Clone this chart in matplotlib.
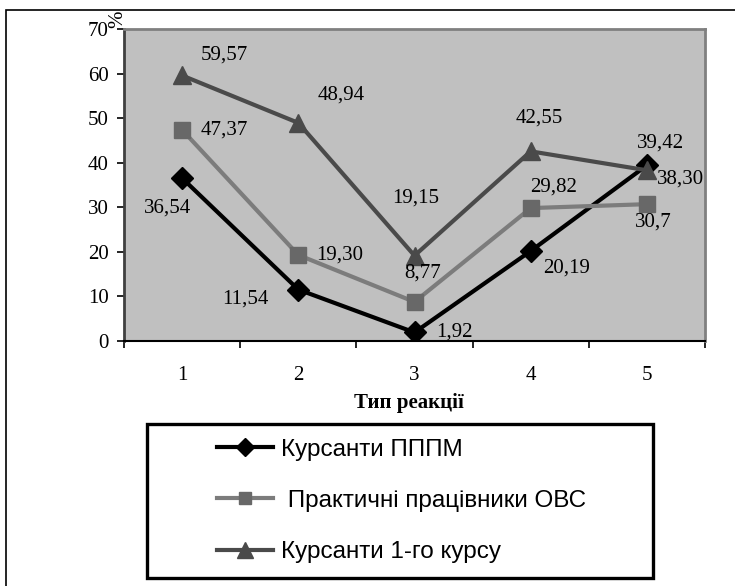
import matplotlib
matplotlib.use("Agg")
import matplotlib.pyplot as plt
from matplotlib.patches import Rectangle

# дані
categories = [1, 2, 3, 4, 5]
kursanty_ppppm = [36.54, 11.54, 1.92, 20.19, 39.42]
praktychni_ovs = [47.37, 19.30, 8.77, 29.82, 30.7]
kursanty_1 = [59.57, 48.94, 19.15, 42.55, 38.30]
labels_ppppm = ["36,54", "11,54", "1,92", "20,19", "39,42"]
labels_ovs = ["47,37", "19,30", "8,77", "29,82", "30,7"]
labels_1 = ["59,57", "48,94", "19,15", "42,55", "38,30"]
series_names = ["Курсанти ПППМ", " Практичні працівники ОВС", "Курсанти 1-го курсу"]
y_ticks = [0, 10, 20, 30, 40, 50, 60, 70]

# зсуви підписів (пікселі)
off_ppppm = [(-15, -30), (-53, -9), (40, 0), (36, -17), (14, 22)]
off_ovs = [(42, 0), (41, 0), (8, 29), (23, 21), (6, -18)]
off_1 = [(42, 20), (43, 28), (1, 58), (9, 33), (34, -9)]

serif = "Liberation Serif"
W, H = 735, 586
fig = plt.figure(figsize=(W / 100, H / 100), dpi=100)
ax = fig.add_axes([124 / W, 1 - 341 / H, (705 - 124) / W, (341 - 29) / H])
ax.set_facecolor("#c0c0c0")

styles = [
    (kursanty_ppppm, labels_ppppm, off_ppppm, "D", 11, "black", "black"),
    (praktychni_ovs, labels_ovs, off_ovs, "s", 11, "#7c7c7c", "#686868"),
    (kursanty_1, labels_1, off_1, "^", 13, "#4a4a4a", "#4a4a4a"),
]
handles = []
for (vals, labs, offs, mk, ms, lc, mc), name in zip(styles, series_names):
    h, = ax.plot(categories, vals, color=lc, lw=3, marker=mk, ms=ms,
                 mfc=mc, mec=mc, label=name, zorder=3)
    handles.append(h)
    for x, v, t, (dx, dy) in zip(categories, vals, labs, offs):
        ax.annotate(t, (x, v), xytext=(dx, dy), textcoords="offset pixels",
                    ha="center", va="center", fontsize=15, family=serif, zorder=4)

ax.set_xlim(0.5, 5.5)
ax.set_ylim(0, 70)
ax.set_yticks(y_ticks)
ax.set_yticklabels([str(t) for t in y_ticks], family=serif, fontsize=15)
ax.tick_params(axis="y", length=5, width=1.2, pad=6)

ax.set_xticks([0.5, 1.5, 2.5, 3.5, 4.5, 5.5])
ax.set_xticklabels([])
ax.tick_params(axis="x", which="major", length=5, width=1.2, direction="out")
ax.set_xticks(categories, minor=True)
ax.set_xticklabels([str(c) for c in categories], minor=True, family=serif, fontsize=15)
ax.tick_params(axis="x", which="minor", length=0, pad=18)

for s in ["top", "right"]:
    ax.spines[s].set_color("#808080")
    ax.spines[s].set_linewidth(2)
ax.spines["left"].set_color("#404040")
ax.spines["left"].set_linewidth(2)
ax.spines["bottom"].set_color("black")
ax.spines["bottom"].set_linewidth(1.5)

fig.text(409 / W, 1 - 403 / H, "Тип реакції", family=serif, fontsize=15,
         fontweight="bold", ha="center", va="center")
fig.text(118 / W, 1 - 19 / H, "%", family=serif, fontsize=15, rotation=90,
         ha="center", va="center")

# зовнішня рамка
fig.patches.append(Rectangle((6 / W, -0.01), 1.0, 1 - 10 / H + 0.01,
                             transform=fig.transFigure, fill=False,
                             edgecolor="black", lw=1.2))
# рамка легенди
fig.patches.append(Rectangle((147 / W, 1 - 578 / H), (653 - 147) / W, (578 - 424) / H,
                             transform=fig.transFigure, fill=False,
                             edgecolor="black", lw=2.4))

leg = fig.legend(handles=handles, loc="center left",
                 bbox_to_anchor=(217 / W, 1 - 501 / H),
                 prop={"family": "Liberation Sans", "size": 17.5},
                 handlelength=2.3, handletextpad=0.35, labelspacing=1.2,
                 markerscale=0.85,
                 borderpad=0, borderaxespad=0, frameon=False)

fig.savefig("out.png", dpi=100)
